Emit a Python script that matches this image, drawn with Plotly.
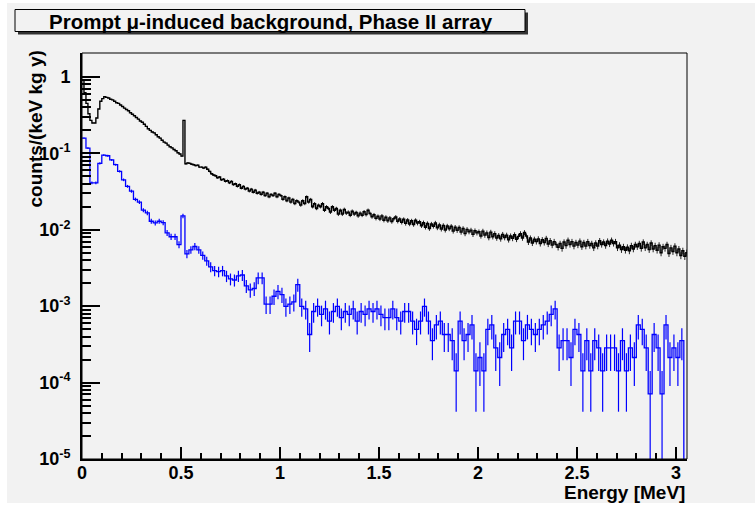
import math
import plotly.graph_objects as go

# ---------------- data ----------------
x_min, x_max = 0.0, 3.056
black_bin_width = 0.01
black_values = [
    0.90, 0.62, 0.45, 0.33, 0.27, 0.25, 0.25, 0.29, 0.38, 0.48,
    0.52, 0.55, 0.54, 0.53, 0.51, 0.50, 0.48, 0.46, 0.45, 0.43,
    0.41, 0.39, 0.375, 0.36, 0.34, 0.325, 0.31, 0.295, 0.28, 0.265,
    0.255, 0.24, 0.225, 0.21, 0.20, 0.19, 0.185, 0.175, 0.165, 0.158,
    0.148, 0.14, 0.136, 0.128, 0.122, 0.118, 0.112, 0.108, 0.102, 0.098,
    0.092, 0.27, 0.073, 0.075, 0.074, 0.072, 0.071, 0.069, 0.070, 0.066,
    0.066, 0.064, 0.066, 0.062, 0.058, 0.054, 0.052, 0.051, 0.048, 0.049,
    0.045, 0.046, 0.043, 0.044, 0.041, 0.043, 0.039, 0.040, 0.037, 0.039,
    0.035, 0.037, 0.034, 0.035, 0.032, 0.034, 0.031, 0.033, 0.030, 0.031,
    0.029, 0.031, 0.028, 0.030, 0.027, 0.029, 0.028, 0.030, 0.027, 0.029,
    0.028, 0.025, 0.027, 0.024, 0.026, 0.023, 0.025, 0.022, 0.024, 0.023,
    0.021, 0.024, 0.022, 0.027, 0.023, 0.025, 0.020, 0.022, 0.019, 0.021,
    0.020, 0.022, 0.018, 0.020, 0.019, 0.017, 0.020, 0.018, 0.019, 0.016,
    0.018, 0.016, 0.0185, 0.0165, 0.017, 0.0155, 0.0175, 0.016, 0.0168, 0.0152,
    0.0165, 0.0155, 0.0172, 0.0158, 0.018, 0.0163, 0.0148, 0.0157, 0.0141, 0.015,
    0.0138, 0.0152, 0.0133, 0.0146, 0.0131, 0.0143, 0.0128, 0.0139, 0.0147, 0.0129,
    0.0138, 0.0125, 0.0137, 0.0121, 0.0134, 0.0119, 0.0131, 0.0117, 0.0133, 0.0122,
    0.0127, 0.0113, 0.0124, 0.0108, 0.0121, 0.0104, 0.0119, 0.0111, 0.0123, 0.0106,
    0.0116, 0.0102, 0.0114, 0.0099, 0.0112, 0.0103, 0.0111, 0.0096, 0.0108, 0.0098,
    0.0107, 0.0093, 0.0104, 0.0089, 0.0101, 0.0094, 0.0099, 0.0087, 0.0097, 0.0091,
    0.0094, 0.0083, 0.0096, 0.0085, 0.0091, 0.0079, 0.0093, 0.0081, 0.0089, 0.0078,
    0.0084, 0.0076, 0.0087, 0.0079, 0.0085, 0.0074, 0.0083, 0.0077, 0.0086, 0.0075,
    0.0082, 0.0089, 0.0078, 0.0092, 0.0083, 0.0069, 0.0078, 0.0067, 0.0075, 0.0070,
    0.0076, 0.0066, 0.0074, 0.0068, 0.0077, 0.0065, 0.0072, 0.0063, 0.0070, 0.0064,
    0.0059, 0.0066, 0.0057, 0.0069, 0.0062, 0.0073, 0.0064, 0.0070, 0.0061, 0.0068,
    0.0063, 0.0071, 0.0060, 0.0068, 0.0061, 0.0070, 0.0062, 0.0066, 0.0058, 0.0067,
    0.0061, 0.0072, 0.0064, 0.0069, 0.0062, 0.0071, 0.0065, 0.0073, 0.0066, 0.0070,
    0.0058, 0.0063, 0.0055, 0.0060, 0.0054, 0.0059, 0.0053, 0.0062, 0.0056, 0.0064,
    0.0060, 0.0066, 0.0057, 0.0069, 0.0058, 0.0064, 0.0055, 0.0067, 0.0056, 0.0062,
    0.0054, 0.0063, 0.0050, 0.0060, 0.0057, 0.0064, 0.0049, 0.0058, 0.0052, 0.0061,
    0.0050, 0.0056, 0.0046, 0.0053, 0.0045, 0.0050,
]
black_count_unit = 5e-5

blue_bin_width = 0.02
blue_counts = [
    2225, 1648, 577, 577, 1042, 1338, 1310, 1155, 1000, 817,
    634, 521, 451, 352, 324, 254, 234, 182, 173, 182,
    175, 128, 114, 114, 90, 214, 68, 77, 85, 77,
    65, 55, 46, 41, 40, 41, 35, 32, 31, 35,
    36, 26, 23, 24, 33, 33, 15, 15, 19, 22,
    20, 14, 15, 16, 27, 14, 13, 6, 12, 14,
    11, 13, 9, 12, 14, 10, 12, 11, 13, 9,
    12, 11, 13, 12, 13, 11, 10, 10, 13, 10,
    9, 12, 12, 9, 7, 9, 14, 9, 5, 8,
    9, 6, 6, 5, 2, 9, 5, 6, 8, 2,
    3, 2, 7, 8, 4, 3, 6, 7, 4, 9,
    9, 5, 8, 7, 6, 7, 8, 9, 11, 13,
    4, 5, 5, 3, 7, 6, 2, 5, 2, 5,
    4, 2, 4, 4, 4, 2, 5, 2, 4, 3,
    8, 7, 4, 1, 6, 4, 1, 8, 3, 4,
    3, 5, 0,
]
blue_count_unit = 7.1e-5

x_tick_vals = [0, 0.5, 1, 1.5, 2, 2.5, 3]
x_tick_text = ["0", "0.5", "1", "1.5", "2", "2.5", "3"]
y_tick_vals = [1e-5, 1e-4, 1e-3, 1e-2, 1e-1, 1]
y_tick_text = ["10<sup>-5</sup>", "10<sup>-4</sup>", "10<sup>-3</sup>",
               "10<sup>-2</sup>", "10<sup>-1</sup>", "1"]
y_log_min, y_log_max = -5.0, 0.313

title_text = "Prompt \u03bc-induced background, Phase II array"
x_title = "Energy [MeV]"
y_title = "counts/(keV kg y)"

# ---------------- layout geometry ----------------
W, H = 755, 507
L, R, T, B = 82, 68, 53, 48
PW, PH = W - L - R, H - T - B
BG = "#f2f2f2"
FONT = "Liberation Sans, Arial, sans-serif"


def px_x(px):
    return (px - L) / PW


def px_y(py):
    return (H - B - py) / PH


TINY = 1e-9


def step_xy(values, width):
    xs, ys = [], []
    for i, v in enumerate(values):
        xs.append(i * width)
        ys.append(v if v > 0 else TINY)
    xs.append(len(values) * width)
    ys.append(ys[-1])
    return xs, ys


fig = go.Figure()

# black histogram
bx, by = step_xy(black_values, black_bin_width)
b_centers = [(i + 0.5) * black_bin_width for i in range(len(black_values))]
b_err = [math.sqrt(v * black_count_unit) for v in black_values]
b_err_minus = [min(e, 0.999 * v) for e, v in zip(b_err, black_values)]
fig.add_trace(go.Scatter(
    x=b_centers, y=black_values, mode="markers",
    marker=dict(size=0.1, color="black", opacity=0),
    error_y=dict(type="data", array=b_err, arrayminus=b_err_minus,
                 color="#222222", thickness=1, width=0, visible=True),
    showlegend=False, hoverinfo="skip"))
fig.add_trace(go.Scatter(x=bx, y=by, mode="lines", line=dict(color="black", width=1.4, shape="hv"),
                         showlegend=False, hoverinfo="skip"))

# blue histogram
blue_values = [n * blue_count_unit for n in blue_counts]
ux, uy = step_xy(blue_values, blue_bin_width)
u_centers = [(i + 0.5) * blue_bin_width for i in range(len(blue_counts))]
u_err = [math.sqrt(n) * blue_count_unit for n in blue_counts]
u_err_minus = [min(e, 0.999 * v) if v > 0 else 0 for e, v in zip(u_err, blue_values)]
u_pts = [v if v > 0 else TINY for v in blue_values]
fig.add_trace(go.Scatter(
    x=u_centers, y=u_pts, mode="markers",
    marker=dict(size=0.1, color="blue", opacity=0),
    error_y=dict(type="data", array=u_err, arrayminus=u_err_minus,
                 color="#0000ff", thickness=1.2, width=0, visible=True),
    showlegend=False, hoverinfo="skip"))
fig.add_trace(go.Scatter(x=ux, y=uy, mode="lines", line=dict(color="#0000ff", width=1.3, shape="hv"),
                         showlegend=False, hoverinfo="skip"))

# minor y ticks on an overlay axis
minor_vals = [m * 10.0 ** d for d in range(-5, 1) for m in range(2, 10)]

tickfont = dict(family=FONT, size=18, color="black", weight="bold")

fig.update_layout(
    width=W, height=H,
    margin=dict(l=L, r=R, t=T, b=B, pad=0),
    paper_bgcolor="white", plot_bgcolor=BG,
    showlegend=False,
    xaxis=dict(range=[x_min, x_max], tickmode="array", tickvals=x_tick_vals, ticktext=x_tick_text,
               ticks="inside", ticklen=12, tickwidth=1.5, tickcolor="black",
               minor=dict(ticks="inside", ticklen=6, dtick=0.1, tick0=0, tickwidth=1.5, tickcolor="black",
                          showgrid=False),
               showline=True, linewidth=2, linecolor="black", showgrid=False, zeroline=False,
               tickfont=tickfont, ticklabelstandoff=-4),
    yaxis=dict(type="log", range=[y_log_min, y_log_max], tickmode="array", tickvals=y_tick_vals,
               ticktext=y_tick_text, ticks="inside", ticklen=18, tickwidth=1.5, tickcolor="black",
               showline=True, linewidth=2, linecolor="black", showgrid=False, zeroline=False,
               tickfont=tickfont, ticklabelstandoff=6),
    yaxis2=dict(type="log", range=[y_log_min, y_log_max], overlaying="y", side="left", anchor="x",
                tickmode="array", tickvals=minor_vals, ticks="inside", ticklen=9, tickwidth=1.5,
                tickcolor="black", showticklabels=False, showgrid=False, zeroline=False, showline=False),
)

# dummy trace to activate yaxis2
fig.add_trace(go.Scatter(x=[None], y=[None], yaxis="y2", showlegend=False, hoverinfo="skip"))

shapes = [
    # canvas
    dict(type="rect", xref="paper", yref="paper", x0=px_x(7), x1=px_x(755), y0=px_y(503), y1=px_y(3),
         fillcolor=BG, line=dict(width=0), layer="below"),
    # frame
    dict(type="rect", xref="paper", yref="paper", x0=0, x1=1, y0=0, y1=1,
         line=dict(color="black", width=1), layer="above"),
    # title shadow
    dict(type="rect", xref="paper", yref="paper", x0=px_x(18), x1=px_x(528), y0=px_y(34.5), y1=px_y(12.5),
         fillcolor="#333333", line=dict(width=0)),
    # title box
    dict(type="rect", xref="paper", yref="paper", x0=px_x(15), x1=px_x(525), y0=px_y(31.5), y1=px_y(9.5),
         fillcolor=BG, line=dict(color="black", width=1)),
]
fig.update_layout(shapes=shapes)

fig.add_annotation(xref="paper", yref="paper", x=px_x(271), y=px_y(21), text="<b>" + title_text + "</b>",
                   showarrow=False, xanchor="center", yanchor="middle",
                   font=dict(family=FONT, size=20.5, color="black"))
fig.add_annotation(xref="paper", yref="paper", x=px_x(687), y=px_y(492), text="<b>" + x_title + "</b>",
                   showarrow=False, xanchor="right", yanchor="middle",
                   font=dict(family=FONT, size=19, color="black"))
fig.add_annotation(xref="paper", yref="paper", x=px_x(35), y=px_y(49), text="<b>" + y_title + "</b>",
                   showarrow=False, xanchor="center", yanchor="top", textangle=-90,
                   font=dict(family=FONT, size=19, color="black"))

fig.write_html("out.html")
